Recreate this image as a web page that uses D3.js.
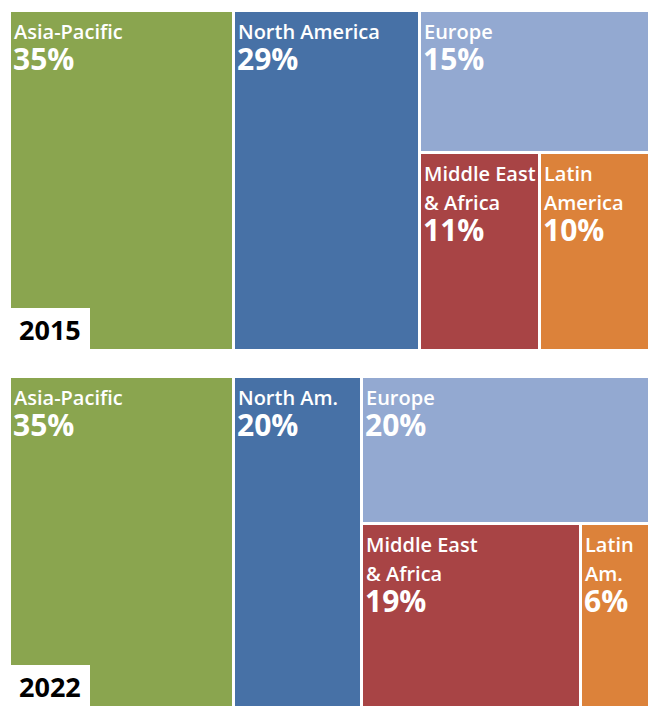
<!DOCTYPE html>
<html lang="en">
<head>
<meta charset="utf-8">
<title>Regional share treemaps</title>
<script src="https://cdn.jsdelivr.net/npm/d3@7"></script>
<style>
  body { margin: 0; background: #fff; }
  svg { display: block; }
  .cell-label { fill: #fff; font-family: "Open Sans", sans-serif; font-weight: 600; font-size: 20px; }
  .cell-pct { fill: #fff; font-family: "Open Sans", sans-serif; font-weight: 700; font-size: 30px; }
  .year { fill: #000; font-family: "Open Sans", sans-serif; font-weight: 700; font-size: 27px; }
</style>
</head>
<body>
<svg id="chart"></svg>
<script>
// data
var years = ["2015", "2022"];
var regions = ["Asia-Pacific", "North America", "Europe", "Middle East & Africa", "Latin America"];
var labels2015 = [["Asia-Pacific"], ["North America"], ["Europe"], ["Middle East", "& Africa"], ["Latin", "America"]];
var labels2022 = [["Asia-Pacific"], ["North Am."], ["Europe"], ["Middle East", "& Africa"], ["Latin", "Am."]];
var share2015 = [35, 29, 15, 11, 10];
var share2022 = [35, 20, 20, 19, 6];
var colors = ["#8aa54f", "#4771a6", "#93a9d1", "#a84445", "#dc823a"];

var width = 648, height = 706;
var svg = d3.select("#chart").attr("width", width).attr("height", height);

// two panels stacked
var panels = [
  {year: years[0], values: share2015, labels: labels2015, x0: 11, y0: 12, x1: 648, y1: 349},
  {year: years[1], values: share2022, labels: labels2022, x0: 11, y0: 378, x1: 648, y1: 706}
];

var color = d3.scaleOrdinal().domain(regions).range(colors);

function buildTree(p) {
  var leaf = function(i) {
    return {name: regions[i], value: p.values[i], lines: p.labels[i]};
  };
  // Asia | North America | (Europe over (ME&A | Latin))
  return {children: [leaf(0), leaf(1), {children: [leaf(2), {children: [leaf(3), leaf(4)]}]}]};
}

panels.forEach(function(p) {
  var root = d3.hierarchy(buildTree(p)).sum(function(d) { return d.value || 0; });

  d3.treemap()
    .tile(d3.treemapSliceDice)
    .size([p.x1 - p.x0, p.y1 - p.y0])
    .paddingInner(3)
    .round(true)(root);

  var g = svg.append("g").attr("transform", "translate(" + p.x0 + "," + p.y0 + ")");

  var cell = g.selectAll("g.cell")
    .data(root.leaves())
    .enter().append("g")
      .attr("class", "cell")
      .attr("transform", function(d) { return "translate(" + d.x0 + "," + d.y0 + ")"; });

  cell.append("rect")
    .attr("width", function(d) { return d.x1 - d.x0; })
    .attr("height", function(d) { return d.y1 - d.y0; })
    .attr("fill", function(d) { return color(d.data.name); });

  cell.each(function(d) {
    var c = d3.select(this);
    var lines = d.data.lines;
    lines.forEach(function(t, i) {
      c.append("text")
        .attr("class", "cell-label")
        .attr("x", 3)
        .attr("y", 27 + i * 29)
        .text(t);
    });
    c.append("text")
      .attr("class", "cell-pct")
      .attr("x", 2)
      .attr("y", 27 + (lines.length - 1) * 29 + 31)
      .text(d.data.value + "%");
  });

  // year tag in bottom-left corner
  var tagH = 41, tagW = 79;
  var h = p.y1 - p.y0;
  g.append("rect")
    .attr("x", 0)
    .attr("y", h - tagH)
    .attr("width", tagW)
    .attr("height", tagH)
    .attr("fill", "#fff");
  g.append("text")
    .attr("class", "year")
    .attr("x", 8)
    .attr("y", h - 9)
    .text(p.year);
});
</script>
</body>
</html>
